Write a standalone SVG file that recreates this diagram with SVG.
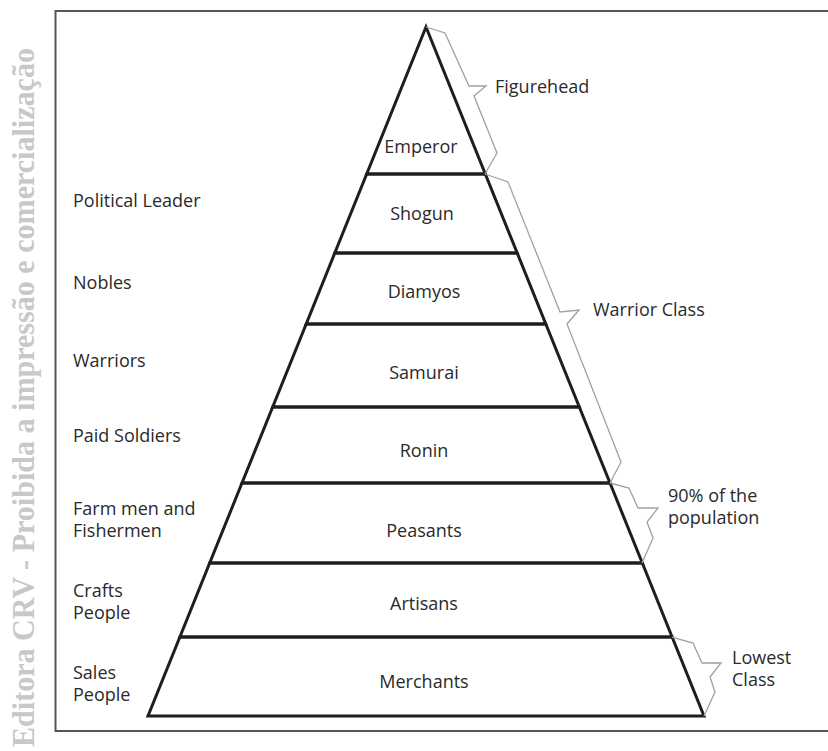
<svg xmlns="http://www.w3.org/2000/svg" width="828" height="751" viewBox="0 0 828 751">
<defs>
<style>
.t{font-family:"Open Sans","Noto Sans","Liberation Sans",sans-serif;font-size:18px;fill:#2a2a2a}
.c{text-anchor:middle}
.tier{fill:none;stroke:#1e1e1e;stroke-width:3;stroke-linejoin:miter}
.br{fill:none;stroke:#a0a0a0;stroke-width:1.3;stroke-linejoin:miter}
.wm{font-family:"Liberation Serif","Times New Roman",serif;font-weight:bold;font-size:32px;fill:#c8c8c8}
</style>
</defs>
<rect width="828" height="751" fill="#fff"/>
<text class="wm" transform="translate(34,747) rotate(-90)" textLength="699" lengthAdjust="spacingAndGlyphs">Editora CRV - Proibida a impressão e comercialização</text>
<path d="M830,11 H55.5 V731 H830" fill="none" stroke="#555" stroke-width="2"/>

<g id="emperor"><polygon class="tier" points="426,27 485.3,174 366.7,174"/><text class="t c" x="421" y="153">Emperor</text></g>
<g id="shogun"><polygon class="tier" points="366.7,174 485.3,174 517.2,253 334.8,253"/><text class="t c" x="422" y="220">Shogun</text></g>
<g id="diamyos"><polygon class="tier" points="334.8,253 517.2,253 545.8,324 306.2,324"/><text class="t c" x="424" y="298">Diamyos</text></g>
<g id="samurai"><polygon class="tier" points="306.2,324 545.8,324 579.3,407 272.7,407"/><text class="t c" x="424" y="379">Samurai</text></g>
<g id="ronin"><polygon class="tier" points="272.7,407 579.3,407 610,483 242,483"/><text class="t c" x="424" y="457">Ronin</text></g>
<g id="peasants"><polygon class="tier" points="242,483 610,483 642.3,563 209.7,563"/><text class="t c" x="424" y="537">Peasants</text></g>
<g id="artisans"><polygon class="tier" points="209.7,563 642.3,563 672.1,637 179.9,637"/><text class="t c" x="424" y="610">Artisans</text></g>
<g id="merchants"><polygon class="tier" points="179.9,637 672.1,637 704,716 148,716"/><text class="t c" x="424" y="688">Merchants</text></g>

<g id="left-labels">
<text class="t" x="73" y="207">Political Leader</text>
<text class="t" x="73" y="289">Nobles</text>
<text class="t" x="73" y="367">Warriors</text>
<text class="t" x="73" y="442">Paid Soldiers</text>
<text class="t" x="73" y="515">Farm men and</text>
<text class="t" x="73" y="537">Fishermen</text>
<text class="t" x="73" y="597">Crafts</text>
<text class="t" x="73" y="619">People</text>
<text class="t" x="73" y="679">Sales</text>
<text class="t" x="73" y="701">People</text>
</g>

<g id="figurehead"><text class="t" x="495" y="93">Figurehead</text></g>
<g id="warrior-class"><text class="t" x="593" y="316">Warrior Class</text></g>
<g id="population"><text class="t" x="668" y="502">90% of the</text><text class="t" x="668" y="524">population</text></g>
<g id="lowest-class"><text class="t" x="732" y="664">Lowest</text><text class="t" x="732" y="686">Class</text></g>

<g id="connectors">
<polyline class="br" points="426,27 445,33 469,86 486,86 474,96 497,153 485,174"/>
<polyline class="br" points="485,174 508,182 560,312 579,310 567,324 621,462 610,483"/>
<polyline class="br" points="610,483 629,488 638,508 658,508 647,522 653,538 642,563"/>
<polyline class="br" points="672,637 693,643 702,663 721,663 710,677 715,692 704,716"/>
</g>
</svg>
